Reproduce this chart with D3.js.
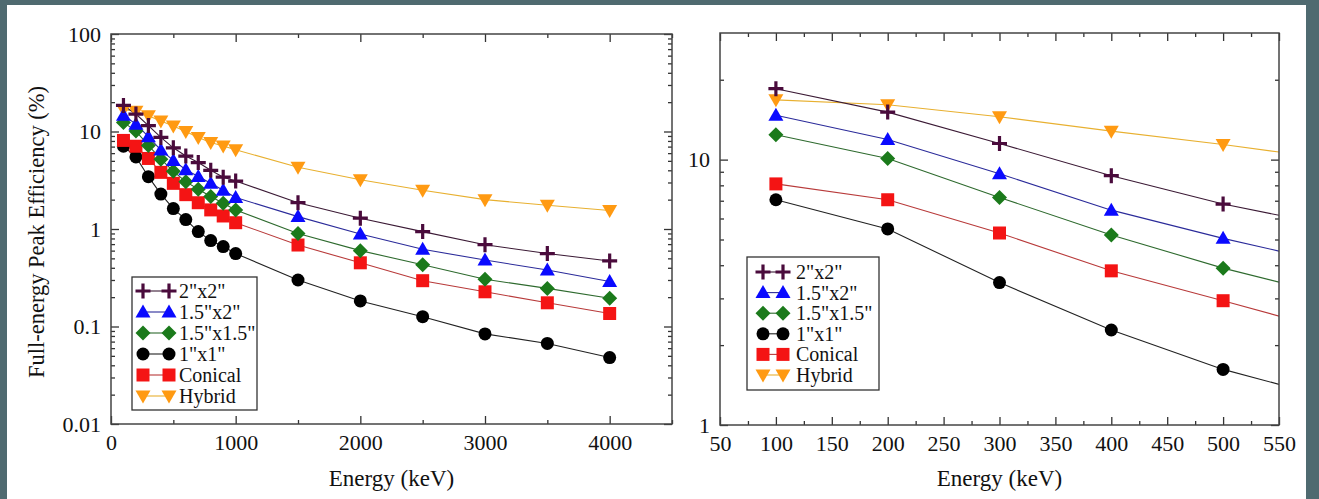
<!DOCTYPE html>
<html>
<head>
<meta charset="utf-8">
<script src="https://cdn.jsdelivr.net/npm/d3@7"></script>
<style>
  html, body { margin: 0; padding: 0; background: #4f6a70; }
  svg { display: block; }
  text { font-family: "Liberation Serif", Tinos, "Times New Roman", "Nimbus Roman", "Noto Serif", "DejaVu Serif", FreeSerif, serif; fill: #111; }
</style>
</head>
<body>
<svg id="chart"></svg>
<script>
// energies in keV, efficiencies in %
const energies = [100, 200, 300, 400, 500, 600, 700, 800, 900, 1000, 1500, 2000, 2500, 3000, 3500, 4000];
const eff2x2 = [18.5, 15.1, 11.5, 8.7, 6.8, 5.6, 4.8, 4.0, 3.4, 3.1, 1.86, 1.29, 0.94, 0.69, 0.56, 0.47];
const eff15x2 = [14.7, 11.9, 8.85, 6.45, 5.05, 4.05, 3.45, 2.95, 2.5, 2.1, 1.34, 0.89, 0.62, 0.48, 0.38, 0.29];
const eff15x15 = [12.4, 10.1, 7.2, 5.2, 3.9, 3.06, 2.56, 2.15, 1.84, 1.57, 0.9, 0.6, 0.43, 0.305, 0.246, 0.195];
const eff1x1 = [7.06, 5.48, 3.44, 2.28, 1.62, 1.25, 0.94, 0.76, 0.66, 0.56, 0.30, 0.183, 0.126, 0.084, 0.067, 0.048];
const effConical = [8.1, 7.06, 5.29, 3.81, 2.94, 2.25, 1.86, 1.57, 1.36, 1.16, 0.685, 0.45, 0.295, 0.227, 0.175, 0.136];
const effHybrid = [16.8, 16.1, 14.5, 12.8, 11.4, 10.0, 8.7, 7.7, 7.1, 6.5, 4.3, 3.2, 2.5, 2.0, 1.75, 1.55];

const seriesNames = ['2"x2"', '1.5"x2"', '1.5"x1.5"', '1"x1"', 'Conical', 'Hybrid'];
const seriesValues = [eff2x2, eff15x2, eff15x15, eff1x1, effConical, effHybrid];
const seriesShapes = ["plus", "triUp", "diamond", "circle", "square", "triDown"];
const markerColors = ["#4a0b3c", "#0a0aff", "#1b7a1b", "#000000", "#f41414", "#ff9a12"];
const lineColors = ["#3b1a35", "#2b2b9a", "#2e6a2e", "#222222", "#b83a3a", "#e8b030"];
// draw order (first is at the bottom)
const drawOrder = [5, 3, 4, 2, 1, 0];

const leftXTicks = [0, 1000, 2000, 3000, 4000];
const leftXMinor = [500, 1500, 2500, 3500, 4500];
const leftYTicks = [0.01, 0.1, 1, 10, 100];
const rightXTicks = [50, 100, 150, 200, 250, 300, 350, 400, 450, 500, 550];
const rightYTicks = [1, 10];

const W = 1319, H = 499;
const FONT = '"Liberation Serif", Tinos, "Times New Roman", "Nimbus Roman", "Noto Serif", "DejaVu Serif", FreeSerif, serif';
const svg = d3.select("#chart").attr("width", W).attr("height", H);

svg.append("rect").attr("x", 7).attr("y", 5).attr("width", 1299).attr("height", H - 5).attr("fill", "#fff");

function markerPath(shape) {
  const p = d3.path();
  if (shape === "circle") { p.arc(0, 0, 6.5, 0, 2 * Math.PI); }
  else if (shape === "square") { p.rect(-6.5, -6.5, 13, 13); }
  else if (shape === "triUp") { p.moveTo(0, -7.5); p.lineTo(7.5, 5.5); p.lineTo(-7.5, 5.5); p.closePath(); }
  else if (shape === "triDown") { p.moveTo(0, 7.5); p.lineTo(7.5, -5.5); p.lineTo(-7.5, -5.5); p.closePath(); }
  else if (shape === "diamond") { p.moveTo(0, -7.5); p.lineTo(7.5, 0); p.lineTo(0, 7.5); p.lineTo(-7.5, 0); p.closePath(); }
  else if (shape === "plus") { p.moveTo(-7.5, 0); p.lineTo(7.5, 0); p.moveTo(0, -7.5); p.lineTo(0, 7.5); }
  return p.toString();
}

function drawMarker(g, shape, color) {
  const m = g.append("path").attr("d", markerPath(shape));
  if (shape === "plus") m.attr("fill", "none").attr("stroke", color).attr("stroke-width", 3.2);
  else m.attr("fill", color).attr("stroke", "none");
  return m;
}

function minorLog(lo, hi) {
  const out = [];
  for (let e = Math.floor(Math.log10(lo)); e < Math.ceil(Math.log10(hi)); e++) {
    for (let k = 2; k <= 9; k++) {
      const v = k * Math.pow(10, e);
      if (v > lo && v < hi) out.push(v);
    }
  }
  return out;
}

function drawPanel(cfg) {
  const x = d3.scaleLinear().domain(cfg.xDomain).range([cfg.left, cfg.right]);
  const y = d3.scaleLog().domain(cfg.yDomain).range([cfg.bottom, cfg.top]);
  const g = svg.append("g");
  const w = cfg.right - cfg.left, h = cfg.bottom - cfg.top;

  const clipId = "clip" + cfg.id;
  svg.append("clipPath").attr("id", clipId)
    .append("rect").attr("x", cfg.left).attr("y", cfg.top).attr("width", w).attr("height", h);

  const plot = g.append("g").attr("clip-path", `url(#${clipId})`);
  const line = d3.line().x(d => x(d[0])).y(d => y(d[1]));

  drawOrder.forEach(i => {
    const pts = energies.map((e, j) => [e, seriesValues[i][j]]);
    plot.append("path").datum(pts)
      .attr("d", line)
      .attr("fill", "none")
      .attr("stroke", lineColors[i])
      .attr("stroke-width", 1.1);
  });
  drawOrder.forEach(i => {
    const pts = energies.map((e, j) => [e, seriesValues[i][j]])
      .filter(d => d[0] >= cfg.xDomain[0] && d[0] <= cfg.xDomain[1]);
    pts.forEach(d => {
      const mg = plot.append("g").attr("transform", `translate(${x(d[0])},${y(d[1])})`);
      drawMarker(mg, seriesShapes[i], markerColors[i]);
    });
  });

  // axes, ticks point inward on all four sides
  const fmtY = d => (d >= 1 ? d3.format("d")(d) : String(d));
  const axes = [
    { a: d3.axisBottom(x).tickValues(cfg.xTicks).tickSize(-8).tickPadding(10).tickFormat(d3.format("d")), t: `translate(0,${cfg.bottom})` },
    { a: d3.axisBottom(x).tickValues(cfg.xMinor).tickSize(-4).tickFormat(""), t: `translate(0,${cfg.bottom})` },
    { a: d3.axisTop(x).tickValues(cfg.xTicks).tickSize(-8).tickFormat(""), t: `translate(0,${cfg.top})` },
    { a: d3.axisTop(x).tickValues(cfg.xMinor).tickSize(-4).tickFormat(""), t: `translate(0,${cfg.top})` },
    { a: d3.axisLeft(y).tickValues(cfg.yTicks).tickSize(-8).tickPadding(10).tickFormat(fmtY), t: `translate(${cfg.left},0)` },
    { a: d3.axisLeft(y).tickValues(minorLog(cfg.yDomain[0], cfg.yDomain[1])).tickSize(-4).tickFormat(""), t: `translate(${cfg.left},0)` },
    { a: d3.axisRight(y).tickValues(cfg.yTicks).tickSize(-8).tickFormat(""), t: `translate(${cfg.right},0)` },
    { a: d3.axisRight(y).tickValues(minorLog(cfg.yDomain[0], cfg.yDomain[1])).tickSize(-4).tickFormat(""), t: `translate(${cfg.right},0)` }
  ];
  axes.forEach(ax => {
    const ag = g.append("g").attr("transform", ax.t).call(ax.a).attr("font-family", FONT);
    ag.select(".domain").remove();
    ag.selectAll("line").attr("stroke", "#333").attr("stroke-width", 1.3);
    ag.selectAll("text").style("font-family", FONT).style("font-size", "22px").attr("fill", "#111");
  });

  g.append("rect").attr("x", cfg.left).attr("y", cfg.top).attr("width", w).attr("height", h)
    .attr("fill", "none").attr("stroke", "#444").attr("stroke-width", 1.5);

  g.append("text")
    .attr("x", (cfg.left + cfg.right) / 2).attr("y", 486)
    .attr("text-anchor", "middle")
    .style("font-family", FONT)
    .style("font-size", "23px")
    .text("Energy (keV)");

  // legend
  const L = cfg.legend;
  g.append("rect").attr("x", L.x0).attr("y", L.y0).attr("width", L.x1 - L.x0).attr("height", L.y1 - L.y0)
    .attr("fill", "#fff").attr("stroke", "#333").attr("stroke-width", 1.3);
  seriesNames.forEach((name, i) => {
    const yy = L.rowY + i * L.rowStep;
    g.append("line").attr("x1", L.m1).attr("x2", L.m2).attr("y1", yy).attr("y2", yy)
      .attr("stroke", lineColors[i]).attr("stroke-width", 1.1);
    [L.m1, L.m2].forEach(mx => {
      const mg = g.append("g").attr("transform", `translate(${mx},${yy})`);
      drawMarker(mg, seriesShapes[i], markerColors[i]);
    });
    g.append("text").attr("x", L.tx).attr("y", yy + 7)
      .style("font-family", FONT)
      .style("font-size", "20px")
      .text(name);
  });
}

drawPanel({
  id: "L", left: 111, right: 672, top: 34, bottom: 424,
  xDomain: [0, 4500], yDomain: [0.01, 100],
  xTicks: leftXTicks, xMinor: leftXMinor, yTicks: leftYTicks,
  legend: { x0: 132, x1: 257, y0: 277, y1: 410, rowY: 291, rowStep: 21, m1: 143, m2: 169, tx: 179 }
});

drawPanel({
  id: "R", left: 720, right: 1279, top: 33, bottom: 425,
  xDomain: [50, 550], yDomain: [1, 30],
  xTicks: rightXTicks, xMinor: d3.range(75, 550, 50), yTicks: rightYTicks,
  legend: { x0: 747, x1: 879, y0: 257, y1: 390, rowY: 272, rowStep: 20.6, m1: 763, m2: 783, tx: 796 }
});

svg.append("text")
  .attr("transform", "translate(44,232) rotate(-90)")
  .attr("text-anchor", "middle")
  .style("font-family", FONT)
  .style("font-size", "22.5px")
  .text("Full-energy Peak Efficiency (%)");
</script>
</body>
</html>
